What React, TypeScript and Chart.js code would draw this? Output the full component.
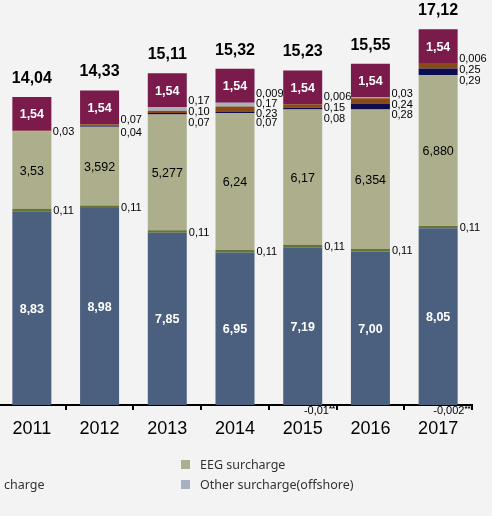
import React, { useEffect, useRef } from "react";
import { Chart, registerables } from "chart.js";
Chart.register(...registerables);

const years = ["2011", "2012", "2013", "2014", "2015", "2016", "2017"];
const netPrice = ["8.83", "8.98", "7.85", "6.95", "7.19", "7.00", "8.05"];
const concessionCharge = ["0.11", "0.11", "0.11", "0.11", "0.11", "0.11", "0.11"];
const eegSurcharge = ["3.53", "3.592", "5.277", "6.24", "6.17", "6.354", "6.880"];
const stromNevSurcharge = [null, "0.04", "0.07", "0.07", "0.08", "0.28", "0.29"];
const chpSurcharge = ["0.03", "0.07", "0.10", "0.23", "0.15", "0.24", "0.25"];
const offshoreSurcharge = [null, null, "0.17", "0.17", "-0.01", "0.03", "-0.002"];
const interruptibleSurcharge = [null, null, null, "0.009", "0.006", null, "0.006"];
const electricityTax = ["1.54", "1.54", "1.54", "1.54", "1.54", "1.54", "1.54"];
const totals = ["14.04", "14.33", "15.11", "15.32", "15.23", "15.55", "17.12"];

type Mode = "white" | "dark" | "right" | "small";

const series: { label: string; values: (string | null)[]; color: string; mode: Mode; col: number; row: number }[] = [
  { label: "Net price", values: netPrice, color: "#4b607f", mode: "white", col: 2, row: 0 },
  { label: "Concession charge", values: concessionCharge, color: "#667534", mode: "right", col: 2, row: 1 },
  { label: "EEG surcharge", values: eegSurcharge, color: "#adaf8c", mode: "dark", col: 3, row: 0 },
  { label: "§19 StromNEV surcharge", values: stromNevSurcharge, color: "#0c0c4e", mode: "small", col: 0, row: 0 },
  { label: "CHP surcharge", values: chpSurcharge, color: "#8a4a14", mode: "small", col: 1, row: 1 },
  { label: "Other surcharge(offshore)", values: offshoreSurcharge, color: "#a8b1bf", mode: "small", col: 3, row: 1 },
  { label: "Interruptible load surcharge", values: interruptibleSurcharge, color: "#d8c8cf", mode: "small", col: 0, row: 1 },
  { label: "Electricity tax", values: electricityTax, color: "#7b1b4b", mode: "white", col: 1, row: 0 },
];

const toNum = (s: string | null) => (s == null ? null : Number(s));
const fmt = (s: string) => s.replace(".", ",");
const SANS = '"Liberation Sans", Arial, sans-serif';

const labelPlugin = {
  id: "valueLabels",
  afterDraw(chart: any) {
    const ctx = chart.ctx;
    ctx.save();
    for (let i = 0; i < years.length; i++) {
      const smalls: { text: string; y: number; base: number; di: number }[] = [];
      let topX = 0;
      let topY = 0;
      let barW = 0;
      series.forEach((s, di) => {
        const el = chart.getDatasetMeta(di).data[i];
        const raw = s.values[i];
        if (!el || raw == null) return;
        const { x, y, base, width } = el.getProps(["x", "y", "base", "width"], true);
        barW = width;
        if (di === series.length - 1) {
          topX = x;
          topY = y;
        }
        const text = fmt(raw);
        const mid = (y + base) / 2;
        ctx.textBaseline = "middle";
        if (s.mode === "white") {
          ctx.fillStyle = "#ffffff";
          ctx.font = `bold 12.5px ${SANS}`;
          ctx.textAlign = "center";
          ctx.fillText(text, x, mid + 1);
        } else if (s.mode === "dark") {
          ctx.fillStyle = "#000000";
          ctx.font = `12.5px ${SANS}`;
          ctx.textAlign = "center";
          ctx.fillText(text, x, mid + 1);
        } else if (s.mode === "right") {
          ctx.fillStyle = "#000000";
          ctx.font = `11px ${SANS}`;
          ctx.textAlign = "left";
          ctx.fillText(text, x + width / 2 + 2, mid + 1);
        } else {
          const v = Number(raw);
          if (v > 0) smalls.push({ text, y, base, di });
          else {
            const rx = x + width / 2 + 13;
            const yy = chart.chartArea.bottom + 5.5;
            ctx.fillStyle = "#000000";
            ctx.font = `bold 8px ${SANS}`;
            ctx.textAlign = "right";
            ctx.textBaseline = "middle";
            ctx.fillText("**", rx, yy - 2);
            const sw = ctx.measureText("**").width;
            ctx.font = `11px ${SANS}`;
            ctx.fillText(text, rx - sw, yy);
          }
        }
      });
      if (smalls.length) {
        const top = Math.min(...smalls.map((s) => s.y));
        const bottom = Math.max(...smalls.map((s) => s.base));
        const c = (top + bottom) / 2;
        const n = smalls.length;
        const sp = n >= 4 ? 9.7 : n === 3 ? 10.8 : 13;
        smalls.sort((a, b) => b.di - a.di);
        const el = chart.getDatasetMeta(0).data[i];
        const lx = el.x + barW / 2 + 1.5;
        ctx.fillStyle = "#000000";
        ctx.font = `11px ${SANS}`;
        ctx.textAlign = "left";
        ctx.textBaseline = "middle";
        smalls.forEach((s, k) => {
          ctx.fillText(s.text, lx, c + (k - (n - 1) / 2) * sp + 1);
        });
      }
      ctx.fillStyle = "#000000";
      ctx.font = `bold 16px ${SANS}`;
      ctx.textAlign = "center";
      ctx.textBaseline = "middle";
      ctx.fillText(fmt(totals[i]), topX, topY - 18.5);
    }
    ctx.restore();
  },
};

export default function App() {
  const ref = useRef<HTMLCanvasElement | null>(null);
  useEffect(() => {
    if (!ref.current) return;
    const chart = new Chart(ref.current, {
      type: "bar",
      data: {
        labels: years,
        datasets: series.map((s) => ({
          label: s.label,
          data: s.values.map(toNum) as any,
          backgroundColor: s.color,
          borderWidth: 0,
          categoryPercentage: 1,
          barPercentage: 0.576,
        })),
      },
      options: {
        animation: false,
        responsive: false,
        maintainAspectRatio: false,
        devicePixelRatio: 1,
        layout: { padding: { left: 18, right: 20, top: 10, bottom: 0 } },
        plugins: { legend: { display: false }, tooltip: { enabled: false } },
        scales: {
          x: {
            stacked: true,
            grid: {
              display: true,
              drawOnChartArea: false,
              drawTicks: true,
              tickLength: 5,
              color: "#000",
              lineWidth: 2,
              offset: true,
            },
            border: { display: true, color: "#000", width: 2 },
            ticks: { color: "#000", font: { family: SANS, size: 18 }, padding: 8 },
            afterFit: (s: any) => {
              s.height = 111;
            },
          },
          y: { stacked: true, display: false, min: 0, max: 18 },
        },
      },
      plugins: [labelPlugin],
    });
    return () => chart.destroy();
  }, []);

  const colW = 266;
  return (
    <div
      style={{
        position: "fixed",
        left: 0,
        top: 0,
        width: 492,
        height: 516,
        overflow: "hidden",
        background: "#f3f3f3",
      }}
    >
      <canvas
        ref={ref}
        width={512}
        height={516}
        style={{ position: "absolute", left: -20, top: 0, width: 512, height: 516 }}
      />
      <div style={{ position: "absolute", left: 181 - 3 * colW, top: 454 }}>
        {series.map((s) => (
          <div
            key={s.label}
            style={{
              position: "absolute",
              left: s.col * colW,
              top: s.row * 20,
              height: 20,
              display: "flex",
              alignItems: "center",
              whiteSpace: "nowrap",
              fontFamily: '"Noto Sans", sans-serif',
              fontSize: 12.5,
              color: "#333",
            }}
          >
            <span style={{ display: "inline-block", width: 9, height: 9, background: s.color, marginRight: 10 }} />
            <span>{s.label}</span>
          </div>
        ))}
      </div>
    </div>
  );
}
